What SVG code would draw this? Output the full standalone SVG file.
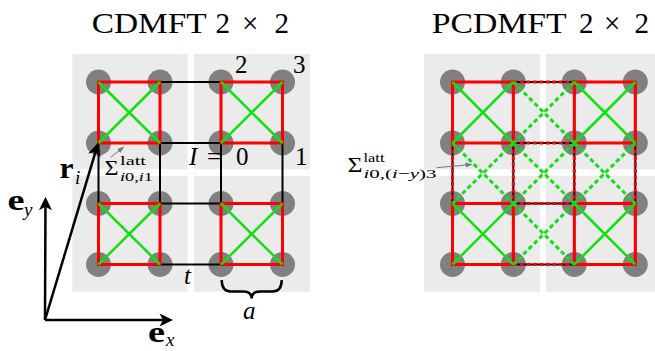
<svg xmlns="http://www.w3.org/2000/svg" width="655" height="351" viewBox="0 0 655 351">
<style>
.tile{fill:#ebebeb}
.site{fill:#808080}
.bk{stroke:#000;stroke-width:2;fill:none}
.rd{stroke:#ff0000;stroke-width:3;fill:none;stroke-linejoin:miter}
.rdd{stroke:#ff0000;stroke-width:3;fill:none;stroke-dasharray:4 2.5}
.gr{stroke:#11e011;stroke-width:2.5;fill:none}
.grd{stroke:#11e011;stroke-width:3;fill:none;stroke-dasharray:4.5 3}
.ax{stroke:#000;stroke-width:2.5;fill:none}
.ptr{stroke:#777;stroke-width:1;fill:none}
text{font-family:"Liberation Serif","DejaVu Serif","Times New Roman",serif;fill:#000}
.ttl{font-size:29px}
.lbl{font-size:25px}
.it{font-style:italic}
.bf{font-weight:bold;font-size:30px}
.sub{font-size:19px;font-style:italic}
.sig{font-size:22px}
.sm{font-size:13px}
</style>
<defs>
<marker id="ah" viewBox="0 0 16 16" markerWidth="16" markerHeight="16" refX="10" refY="8" orient="auto" markerUnits="userSpaceOnUse">
<path d="M0.5,1.5 L14,8 L0.5,14.5 L4,8 z" fill="#000"/>
</marker>
<marker id="gh" viewBox="0 0 8 6" markerWidth="8" markerHeight="6" refX="6" refY="3" orient="auto" markerUnits="userSpaceOnUse">
<path d="M0,0.5 L7,3 L0,5.5 z" fill="#777"/>
</marker>
</defs>

<text class="ttl" x="91.7" y="33" textLength="115" lengthAdjust="spacingAndGlyphs">CDMFT</text>
<text class="ttl" x="215.5" y="33">2</text>
<text class="ttl" x="242" y="33">×</text>
<text class="ttl" x="274.5" y="33">2</text>

<text class="ttl" x="431.7" y="33" textLength="135" lengthAdjust="spacingAndGlyphs">PCDMFT</text>
<text class="ttl" x="579" y="33">2</text>
<text class="ttl" x="604" y="33">×</text>
<text class="ttl" x="634.5" y="33">2</text>

<!-- left panel -->
<g id="left-tiles">
<rect class="tile" x="72.3" y="54" width="115.4" height="115.3"/>
<rect class="tile" x="194" y="54" width="116" height="115.3"/>
<rect class="tile" x="72.3" y="176" width="115.4" height="115.7"/>
<rect class="tile" x="194" y="176" width="116" height="115.7"/>
</g>
<g id="left-sites">
<circle class="site" cx="98.5" cy="82" r="12.5"/><circle class="site" cx="160" cy="82" r="12.5"/>
<circle class="site" cx="221" cy="82" r="12.5"/><circle class="site" cx="282.5" cy="82" r="12.5"/>
<circle class="site" cx="98.5" cy="143" r="12.5"/><circle class="site" cx="160" cy="143" r="12.5"/>
<circle class="site" cx="221" cy="143" r="12.5"/><circle class="site" cx="282.5" cy="143" r="12.5"/>
<circle class="site" cx="98.5" cy="203.5" r="12.5"/><circle class="site" cx="160" cy="203.5" r="12.5"/>
<circle class="site" cx="221" cy="203.5" r="12.5"/><circle class="site" cx="282.5" cy="203.5" r="12.5"/>
<circle class="site" cx="98.5" cy="264.5" r="12.5"/><circle class="site" cx="160" cy="264.5" r="12.5"/>
<circle class="site" cx="221" cy="264.5" r="12.5"/><circle class="site" cx="282.5" cy="264.5" r="12.5"/>
</g>
<g id="left-connectors">
<path class="bk" d="M98.5,82H282.5M98.5,143H282.5M98.5,203.5H282.5M98.5,264.5H282.5M98.5,82V264.5M160,82V264.5M221,82V264.5M282.5,82V264.5"/>
<path class="rd" d="M98.5,82H160V143H98.5Z M221,82H282.5V143H221Z M98.5,203.5H160V264.5H98.5Z M221,203.5H282.5V264.5H221Z"/>
<path class="gr" d="M98.5,82L160,143M160,82L98.5,143 M221,82L282.5,143M282.5,82L221,143 M98.5,203.5L160,264.5M160,203.5L98.5,264.5 M221,203.5L282.5,264.5M282.5,203.5L221,264.5"/>
</g>
<g id="left-labels">
<text class="lbl" x="235" y="73">2</text>
<text class="lbl" x="293" y="73">3</text>
<text class="lbl" x="295" y="165">1</text>
<text class="lbl it" x="189" y="165">I</text>
<text class="lbl" x="207" y="165">=</text>
<text class="lbl" x="236" y="165">0</text>
<text class="lbl it" x="184" y="284">t</text>
<text class="lbl it" x="243" y="319">a</text>
<path d="M221.7,280 Q221.7,291.5 231,291.5 L243,291.5 Q251.7,291.5 251.7,298.5 Q251.7,291.5 260.4,291.5 L272.4,291.5 Q281.7,291.5 281.7,280" stroke="#000" stroke-width="2.5" fill="none"/>
<path class="ptr" d="M110.7,157.3 L123.5,147.2" marker-end="url(#gh)"/>
<text class="sig" x="104.5" y="174.5" textLength="14" lengthAdjust="spacingAndGlyphs">Σ</text>
<text class="sm" x="120" y="164.5" textLength="26" lengthAdjust="spacingAndGlyphs">latt</text>
<text class="sm" x="120" y="180.5" textLength="33" lengthAdjust="spacingAndGlyphs"><tspan class="it">i</tspan>0,<tspan class="it">i</tspan>1</text>
</g>
<g id="axes">
<path class="ax" d="M45,320 H169" marker-end="url(#ah)"/>
<path class="ax" d="M45,320 L45.5,200.7" marker-end="url(#ah)"/>
<path class="ax" d="M45,320 L97.15,146.3" marker-end="url(#ah)"/>
<text class="bf" x="148" y="341.5" textLength="17" lengthAdjust="spacingAndGlyphs">e</text><text class="sub" x="166" y="346">x</text>
<text class="bf" x="7.5" y="210" textLength="17" lengthAdjust="spacingAndGlyphs">e</text><text class="sub" x="24" y="216">y</text>
<text class="bf" x="59.5" y="178" textLength="14" lengthAdjust="spacingAndGlyphs">r</text><text class="sub" x="75" y="183.5">i</text>
</g>

<!-- right panel -->
<g id="right-tiles">
<rect class="tile" x="424" y="54" width="116" height="115.3"/>
<rect class="tile" x="546" y="54" width="116" height="115.3"/>
<rect class="tile" x="424" y="176" width="116" height="115.7"/>
<rect class="tile" x="546" y="176" width="116" height="115.7"/>
</g>
<g id="right-sites">
<circle class="site" cx="452.5" cy="82" r="12.5"/><circle class="site" cx="513.3" cy="82" r="12.5"/>
<circle class="site" cx="574.3" cy="82" r="12.5"/><circle class="site" cx="635.3" cy="82" r="12.5"/>
<circle class="site" cx="452.5" cy="143" r="12.5"/><circle class="site" cx="513.3" cy="143" r="12.5"/>
<circle class="site" cx="574.3" cy="143" r="12.5"/><circle class="site" cx="635.3" cy="143" r="12.5"/>
<circle class="site" cx="452.5" cy="203.5" r="12.5"/><circle class="site" cx="513.3" cy="203.5" r="12.5"/>
<circle class="site" cx="574.3" cy="203.5" r="12.5"/><circle class="site" cx="635.3" cy="203.5" r="12.5"/>
<circle class="site" cx="452.5" cy="264.5" r="12.5"/><circle class="site" cx="513.3" cy="264.5" r="12.5"/>
<circle class="site" cx="574.3" cy="264.5" r="12.5"/><circle class="site" cx="635.3" cy="264.5" r="12.5"/>
</g>
<g id="right-connectors">
<path class="bk" d="M452.5,82H635.3M452.5,143H635.3M452.5,203.5H635.3M452.5,264.5H635.3M452.5,82V264.5M513.3,82V264.5M574.3,82V264.5M635.3,82V264.5"/>
<path class="rdd" d="M513.3,82H574.3M513.3,143H574.3M513.3,203.5H574.3M513.3,264.5H574.3M452.5,143V203.5M513.3,143V203.5M574.3,143V203.5M635.3,143V203.5"/>
<path class="rd" d="M452.5,82H513.3V143H452.5Z M574.3,82H635.3V143H574.3Z M452.5,203.5H513.3V264.5H452.5Z M574.3,203.5H635.3V264.5H574.3Z"/>
<path class="grd" d="M513.3,82L574.3,143M574.3,82L513.3,143 M452.5,143L513.3,203.5M513.3,143L452.5,203.5 M513.3,143L574.3,203.5M574.3,143L513.3,203.5 M574.3,143L635.3,203.5M635.3,143L574.3,203.5 M513.3,203.5L574.3,264.5M574.3,203.5L513.3,264.5"/>
<path class="gr" d="M452.5,82L513.3,143M513.3,82L452.5,143 M574.3,82L635.3,143M635.3,82L574.3,143 M452.5,203.5L513.3,264.5M513.3,203.5L452.5,264.5 M574.3,203.5L635.3,264.5M635.3,203.5L574.3,264.5"/>
</g>
<g id="right-labels">
<path class="ptr" d="M436.7,167.7 L471.5,164.5" marker-end="url(#gh)"/>
<text class="sig" x="347.5" y="172" textLength="15" lengthAdjust="spacingAndGlyphs">Σ</text>
<text class="sm" x="363.5" y="162" textLength="21" lengthAdjust="spacingAndGlyphs">latt</text>
<text class="sm" x="363.5" y="178" textLength="73" lengthAdjust="spacingAndGlyphs"><tspan class="it">i</tspan>0,(<tspan class="it">i</tspan>−<tspan class="it">y</tspan>)3</text>
</g>
</svg>
